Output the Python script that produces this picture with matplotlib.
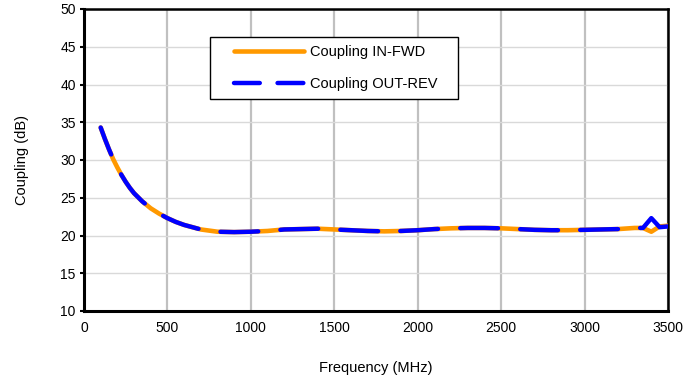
import matplotlib
matplotlib.use("Agg")
import matplotlib.pyplot as plt
from matplotlib.lines import Line2D
from matplotlib.legend_handler import HandlerLine2D

plt.rcParams["font.family"] = ["Liberation Sans", "DejaVu Sans"]

# Frequency (MHz) and coupling (dB)
freq = [100, 125, 150, 175, 200, 225, 250, 275, 300, 350, 400, 450, 500, 550,
        600, 650, 700, 800, 900, 1000, 1100, 1200, 1300, 1400, 1500, 1600,
        1700, 1800, 1900, 2000, 2100, 2200, 2300, 2400, 2500, 2600, 2700,
        2800, 2900, 3000, 3100, 3200, 3300, 3350, 3400, 3450, 3500]
in_fwd = [34.3, 32.8, 31.4, 30.1, 29.0, 28.0, 27.1, 26.3, 25.6, 24.5, 23.6,
          22.9, 22.3, 21.8, 21.4, 21.1, 20.8, 20.5, 20.45, 20.5, 20.6, 20.8,
          20.85, 20.9, 20.8, 20.7, 20.6, 20.55, 20.6, 20.7, 20.85, 20.95,
          21.0, 21.0, 20.95, 20.85, 20.75, 20.7, 20.7, 20.75, 20.8, 20.85,
          21.0, 21.0, 20.5, 21.2, 21.3]
out_rev = [34.3, 32.8, 31.4, 30.1, 29.0, 28.0, 27.1, 26.3, 25.6, 24.5, 23.6,
           22.9, 22.3, 21.8, 21.4, 21.1, 20.8, 20.5, 20.45, 20.5, 20.6, 20.8,
           20.85, 20.9, 20.8, 20.7, 20.6, 20.55, 20.6, 20.7, 20.85, 20.95,
           21.0, 21.0, 20.95, 20.85, 20.75, 20.7, 20.7, 20.75, 20.8, 20.85,
           21.0, 21.0, 22.3, 21.1, 21.2]
labels = ["Coupling IN-FWD", "Coupling OUT-REV"]

ORANGE = "#FF9900"
BLUE = "#0000FF"

fig = plt.figure(figsize=(6.97, 3.81), dpi=100)
ax = fig.add_axes([84 / 697, 70 / 381, 584 / 697, 302 / 381])

ax.plot(freq, in_fwd, color=ORANGE, lw=3.3,
        solid_capstyle="round", solid_joinstyle="round", zorder=3)
ax.plot(freq, out_rev, color=BLUE, lw=3.2, ls=(2, (8.5, 5)),
        dash_capstyle="round", dash_joinstyle="round", zorder=4)

ax.set_xlim(0, 3500)
ax.set_ylim(10, 50)
ax.set_xticks(range(0, 3501, 500))
ax.set_yticks(range(10, 51, 5))

# 网格：竖线较深较粗，横线较浅
ax.grid(axis="x", color="#c0c0c0", lw=1.6, zorder=0)
ax.grid(axis="y", color="#d9d9d9", lw=1.0, zorder=0)
ax.set_axisbelow(True)

for side in ["left", "bottom"]:
    ax.spines[side].set_linewidth(2.2)
for side in ["top", "right"]:
    ax.spines[side].set_linewidth(1.8)

ax.tick_params(axis="y", length=3, width=1.5, labelsize=10, pad=3)
ax.tick_params(axis="x", length=0, labelsize=10, pad=7)

ax.set_xlabel("Frequency (MHz)", fontsize=10.5, labelpad=19)
ax.set_ylabel("Coupling (dB)", fontsize=10.5, labelpad=22)

# 图例：单独的代理线条，让虚线在图例里显示两段完整的划线
h_fwd = Line2D([], [], color=ORANGE, lw=3.3, solid_capstyle="round")
h_rev = Line2D([], [], color=BLUE, lw=3.2, ls=(0, (5.8, 4.0)),
               dash_capstyle="round")
hmap = {h: HandlerLine2D(xpad=1.1) for h in (h_fwd, h_rev)}
leg = ax.legend([h_fwd, h_rev], [s + "   " for s in labels],
                handler_map=hmap,
                loc="upper left", bbox_to_anchor=(0.216, 0.907),
                borderaxespad=0, fontsize=10.5, handlelength=5.9,
                handletextpad=0.4, labelspacing=1.2, borderpad=0.55,
                fancybox=False, edgecolor="black", framealpha=1)
leg.get_frame().set_linewidth(1.0)
leg.set_zorder(5)

fig.savefig("out.png", dpi=100)
plt.close(fig)
